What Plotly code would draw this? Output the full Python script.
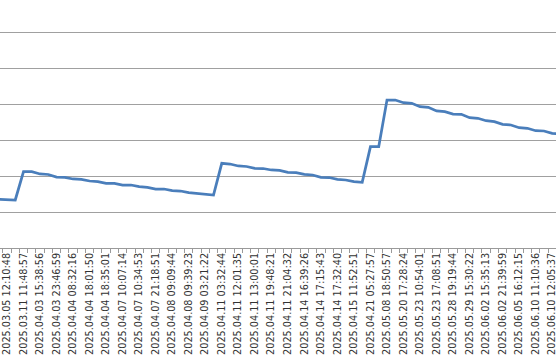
import plotly.graph_objects as go

# category index -1 .. 67 (only even categories carry labels)
values = [1.353, 1.347, 1.333, 2.119, 2.119, 2.056, 2.042, 1.972, 1.964, 1.917,
          1.908, 1.861, 1.842, 1.797, 1.797, 1.750, 1.750, 1.703, 1.686, 1.639,
          1.639, 1.592, 1.583, 1.536, 1.519, 1.486, 1.472, 2.353, 2.333, 2.278,
          2.264, 2.214, 2.208, 2.167, 2.153, 2.103, 2.092, 2.047, 2.028, 1.964,
          1.958, 1.908, 1.889, 1.842, 1.825, 2.814, 2.814, 4.111, 4.111, 4.036,
          4.019, 3.925, 3.908, 3.806, 3.786, 3.722, 3.714, 3.619, 3.603, 3.536,
          3.508, 3.436, 3.417, 3.342, 3.325, 3.258, 3.250, 3.186, 3.167]
x_index = list(range(-1, -1 + len(values)))

tick_labels = [
    "2025.03.05 12:10:48", "2025.03.11 11:48:57", "2025.04.03 15:38:56",
    "2025.04.03 23:46:59", "2025.04.04 08:32:16", "2025.04.04 18:01:50",
    "2025.04.04 18:35:01", "2025.04.07 10:07:14", "2025.04.07 10:34:53",
    "2025.04.07 21:18:51", "2025.04.08 09:09:44", "2025.04.08 09:39:23",
    "2025.04.09 03:21:22", "2025.04.11 03:32:44", "2025.04.11 12:01:35",
    "2025.04.11 13:00:01", "2025.04.11 19:48:21", "2025.04.11 21:04:32",
    "2025.04.14 16:39:26", "2025.04.14 17:15:43", "2025.04.14 17:32:40",
    "2025.04.15 11:52:51", "2025.04.21 05:27:57", "2025.05.08 18:50:57",
    "2025.05.20 17:28:24", "2025.05.23 10:54:01", "2025.05.23 17:08:51",
    "2025.05.28 19:19:44", "2025.05.29 15:30:22", "2025.06.02 15:35:13",
    "2025.06.02 21:39:59", "2025.06.05 16:12:15", "2025.06.10 11:10:36",
    "2025.06.10 12:05:37",
]
tick_positions = [2 * i for i in range(len(tick_labels))]

fig = go.Figure()
fig.add_trace(go.Scatter(
    x=x_index, y=values, mode="lines",
    line=dict(color="#4a7ebb", width=2.75),
    showlegend=False, hoverinfo="skip",
))

fig.update_layout(
    width=556, height=361,
    margin=dict(l=0, r=0, t=0, b=113),
    paper_bgcolor="white", plot_bgcolor="white",
    xaxis=dict(
        range=[-0.847, 66.46],
        tickmode="array", tickvals=tick_positions, ticktext=tick_labels,
        tickangle=-90, ticks="", ticklabeloverflow="allow",
        tickfont=dict(family="DejaVu Sans", size=9.7, color="#333333"),
        showgrid=False, zeroline=False,
        showline=True, linecolor="#9a9a9a", linewidth=1,
        minor=dict(ticks="outside", tick0=0.5, dtick=1, ticklen=4,
                   tickcolor="#9a9a9a", showgrid=False),
    ),
    yaxis=dict(
        range=[0, 6.889], dtick=1, tick0=0,
        showticklabels=False, ticks="",
        showgrid=True, gridcolor="#a0a0a0", gridwidth=1.2,
        zeroline=False, showline=False,
    ),
)

fig.write_html("out.html")
